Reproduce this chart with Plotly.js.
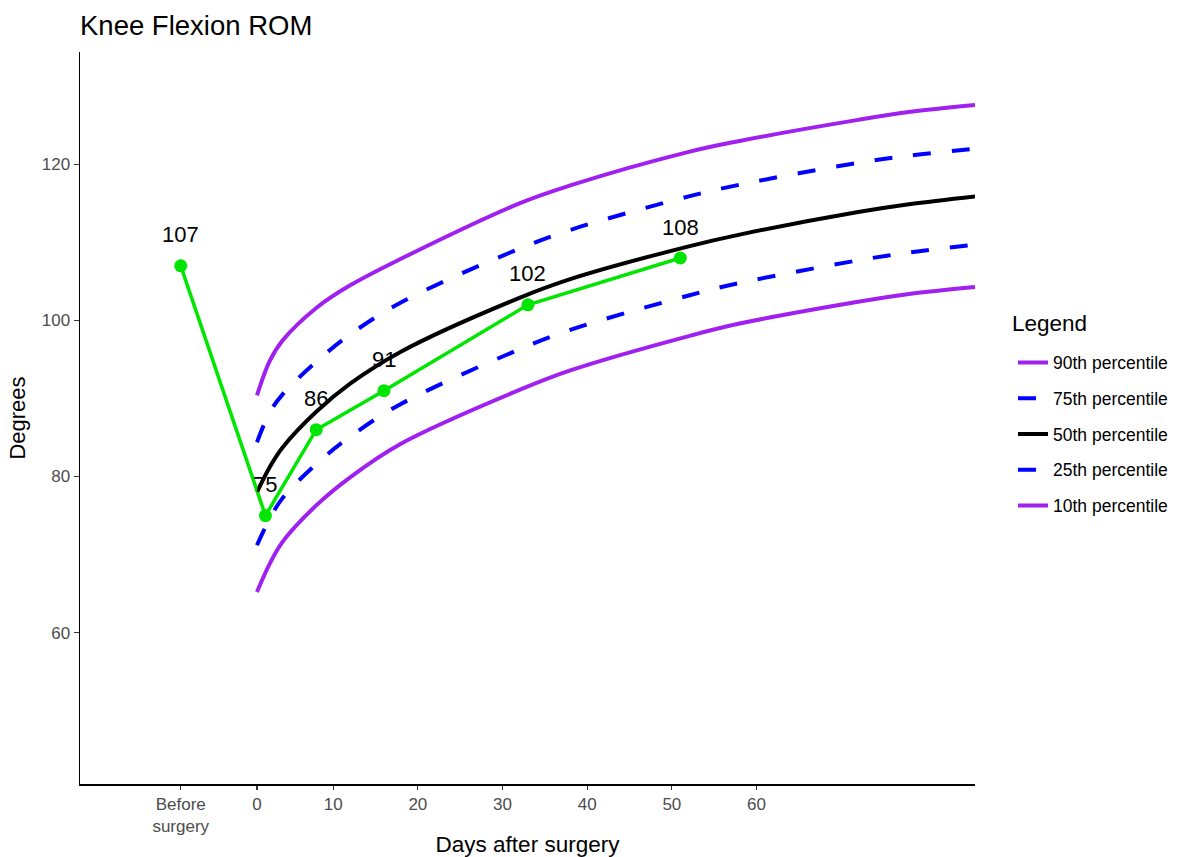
<!DOCTYPE html>
<html>
<head>
<meta charset="utf-8">
<script src="https://cdn.plot.ly/plotly-3.0.1.min.js"></script>
<style>
html,body{margin:0;padding:0;background:#fff;}
#chart{width:1177px;height:857px;}
</style>
</head>
<body>
<div id="chart"></div>
<script>
// Percentile curves (days after surgery vs degrees)
const curveDays = [1, 2.5, 4, 8, 12, 18, 32, 38, 52, 58, 72, 78, 85.8];
const p90 = [90.4, 94.8, 97.4, 101.6, 104.5, 107.9, 115.0, 117.3, 121.6, 123.0, 125.7, 126.7, 127.6];
const p75 = [84.4, 88.2, 90.5, 94.7, 98.2, 102.3, 109.2, 111.6, 115.9, 117.4, 120.2, 121.1, 122.0];
const p50 = [78.0, 81.2, 83.7, 88.3, 91.9, 96.0, 102.9, 105.3, 109.5, 111.0, 113.9, 114.9, 115.9];
const p25 = [71.2, 74.6, 77.2, 81.6, 85.1, 89.3, 96.3, 98.8, 103.2, 104.8, 107.7, 108.7, 109.7];
const p10 = [65.2, 68.8, 71.6, 76.3, 79.9, 84.2, 91.1, 93.6, 98.0, 99.6, 102.4, 103.4, 104.3];

// Patient measurements (-8 = "Before surgery" position)
const patientDays = [-8, 2, 8, 16, 33, 51];
const patientROM = [107, 75, 86, 91, 102, 108];

// Tick labels
const xTickVals = [-8, 1, 10, 20, 30, 40, 50, 60];
const xTickText = ["Before<br>surgery", "0", "10", "20", "30", "40", "50", "60"];
const yTickVals = [60, 80, 100, 120];

const FONT = "Liberation Sans, Arial, sans-serif";
const PURPLE = "#A020F0", BLUE = "#0000FF", GREEN = "#00E600";
const DASH = "18px,21px";

function curve(y, name, color, dash, grp) {
  return {
    x: curveDays, y: y, name: name, type: "scatter", mode: "lines",
    line: {color: color, width: 4, dash: dash, shape: "spline", smoothing: 1},
    legendgroup: grp, hoverinfo: "skip"
  };
}

const traces = [
  curve(p90, "90th percentile", PURPLE, "solid", "a"),
  curve(p75, "75th percentile", BLUE, DASH, "b"),
  curve(p50, "50th percentile", "#000000", "solid", "c"),
  curve(p25, "25th percentile", BLUE, DASH, "d"),
  curve(p10, "10th percentile", PURPLE, "solid", "e"),
  {
    x: patientDays, y: patientROM, type: "scatter", mode: "lines+markers",
    line: {color: GREEN, width: 3.5}, marker: {color: GREEN, size: 13},
    showlegend: false, name: "Patient"
  }
];

const annotations = patientDays.map((d, i) => ({
  x: d, y: patientROM[i], text: String(patientROM[i]), showarrow: false,
  yshift: 31, font: {family: FONT, size: 22, color: "#000"}
}));
// legend heading
annotations.push({
  text: "Legend", showarrow: false, xref: "paper", yref: "paper",
  x: (1010 - 80) / 895, xanchor: "left", y: (784 - 323) / 732, yanchor: "middle",
  font: {family: FONT, size: 22.5, color: "#000"}
});

const layout = {
  width: 1177, height: 857,
  margin: {l: 80, r: 202, t: 52, b: 73},
  paper_bgcolor: "#fff", plot_bgcolor: "#fff",
  font: {family: FONT},
  title: {
    text: "Knee Flexion ROM", x: 0, xref: "paper", xanchor: "left",
    y: 1 - 25/857, yref: "container", yanchor: "middle",
    font: {family: FONT, size: 27.5, color: "#000"}
  },
  xaxis: {
    range: [-19.9, 85.8], tickvals: xTickVals, ticktext: xTickText,
    showgrid: false, zeroline: false, showline: true, linecolor: "#000", linewidth: 1.5,
    ticks: "outside", ticklen: 4, tickcolor: "#333", tickwidth: 1.2,
    tickfont: {family: FONT, size: 17, color: "#4D4D4D"},
    title: {text: "Days after surgery", font: {family: FONT, size: 22.5, color: "#000"}, standoff: 6}
  },
  yaxis: {
    range: [40.6, 134.4], tickvals: yTickVals,
    showgrid: false, zeroline: false, showline: true, linecolor: "#000", linewidth: 1.5,
    ticks: "outside", ticklen: 5, tickcolor: "#333", tickwidth: 1.2,
    tickfont: {family: FONT, size: 17, color: "#4D4D4D"},
    title: {text: "Degrees", font: {family: FONT, size: 22, color: "#000"}, standoff: 10}
  },
  legend: {
    xref: "container", yref: "container",
    x: 1013 / 1177, xanchor: "left", y: 1 - 434 / 857, yanchor: "middle",
    font: {family: FONT, size: 17.5, color: "#000"},
    traceorder: "grouped", tracegroupgap: 10, itemwidth: 30
  },
  annotations: annotations,
  showlegend: true
};

Plotly.newPlot("chart", traces, layout, {displayModeBar: false, staticPlot: true});
</script>
</body>
</html>
